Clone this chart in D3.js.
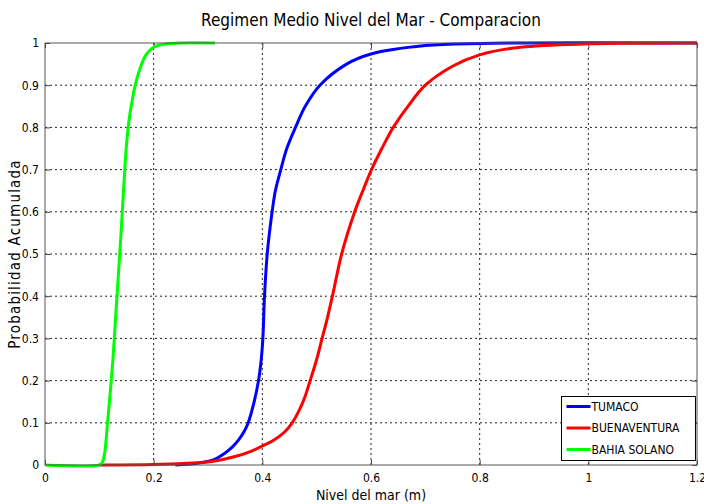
<!DOCTYPE html>
<html>
<head>
<meta charset="utf-8">
<script src="https://cdn.jsdelivr.net/npm/d3@7"></script>
<style>
    body { margin: 0; background: white; }
    text { font-family: "Liberation Sans Narrow", "DejaVu Sans Condensed", Arial, sans-serif; fill: #000; }
</style>
</head>
<body>
<div class="chart-ctn"></div>
<script>
// curvas: [nivel (m), probabilidad]
const tumaco = [[0.24, 0], [0.28, 0.004], [0.31, 0.012], [0.331, 0.028], [0.345, 0.043], [0.356, 0.059], [0.366, 0.078], [0.374, 0.1], [0.385, 0.15], [0.393, 0.2], [0.398, 0.25], [0.401, 0.3], [0.404, 0.4], [0.409, 0.5], [0.418, 0.6], [0.424, 0.65], [0.434, 0.7], [0.445, 0.75], [0.461, 0.8], [0.479, 0.85], [0.506, 0.9], [0.555, 0.95], [0.6, 0.974], [0.7, 0.994], [0.8, 0.999], [1.2, 1]];
const buenaventura = [[0.1, 0], [0.2, 0.001], [0.26, 0.004], [0.31, 0.009], [0.35, 0.02], [0.38, 0.033], [0.4, 0.045], [0.42, 0.058], [0.44, 0.077], [0.455, 0.1], [0.468, 0.13], [0.478, 0.16], [0.488, 0.2], [0.5, 0.25], [0.51, 0.3], [0.52, 0.35], [0.529, 0.4], [0.546, 0.5], [0.57, 0.6], [0.585, 0.65], [0.601, 0.7], [0.62, 0.75], [0.641, 0.8], [0.668, 0.85], [0.7, 0.9], [0.75, 0.945], [0.8, 0.972], [0.875, 0.99], [1.0, 0.998], [1.2, 1]];
const bahiaSolano = [[0, 0], [0.1, 0], [0.105, 0.005], [0.11, 0.03], [0.115, 0.1], [0.12, 0.17], [0.125, 0.25], [0.13, 0.35], [0.135, 0.45], [0.14, 0.55], [0.145, 0.66], [0.15, 0.76], [0.155, 0.82], [0.16, 0.86], [0.166, 0.9], [0.175, 0.94], [0.185, 0.97], [0.2, 0.99], [0.22, 0.997], [0.25, 1], [0.313, 1]];

const seriesNames = ['TUMACO', 'BUENAVENTURA', 'BAHIA SOLANO'];
const seriesColors = ['#0000ff', '#ff0000', '#00ff00'];
const xTicks = [0, 0.2, 0.4, 0.6, 0.8, 1, 1.2];
const yTicks = [0, 0.1, 0.2, 0.3, 0.4, 0.5, 0.6, 0.7, 0.8, 0.9, 1];

const w = 704, h = 504;
const margin = { left: 45, right: 7, top: 43, bottom: 39 };

let svg = d3.select('.chart-ctn')
    .append('svg')
    .attr('width', w)
    .attr('height', h)
    .style('background-color', 'white');

let x = d3.scaleLinear()
    .domain([0, 1.2])
    .range([margin.left, w - margin.right]);

let y = d3.scaleLinear()
    .domain([0, 1])
    .range([h - margin.bottom, margin.top]);

// rejilla punteada
svg.append('g')
    .selectAll('line')
    .data(xTicks.slice(1, -1))
    .join('line')
    .attr('x1', d => x(d)).attr('x2', d => x(d))
    .attr('y1', y(0)).attr('y2', y(1))
    .attr('stroke', '#222')
    .attr('stroke-dasharray', '2,3');

svg.append('g')
    .selectAll('line')
    .data(yTicks.slice(1, -1))
    .join('line')
    .attr('x1', x(0)).attr('x2', x(1.2))
    .attr('y1', d => y(d)).attr('y2', d => y(d))
    .attr('stroke', '#222')
    .attr('stroke-dasharray', '2,3');

// ejes estilo matlab (ticks hacia adentro)
const xAxis = d3.axisBottom(x).tickValues(xTicks).tickSizeInner(-5).tickSizeOuter(0).tickPadding(8).tickFormat(d3.format('~g'));
const yAxis = d3.axisLeft(y).tickValues(yTicks).tickSizeInner(-5).tickSizeOuter(0).tickPadding(6).tickFormat(d3.format('~g'));

svg.append('g')
    .attr('transform', 'translate(0,' + y(0) + ')')
    .call(xAxis)
    .call(g => g.select('.domain').remove())
    .call(g => g.selectAll('text').attr('font-size', 12).style('font-family', null));

svg.append('g')
    .attr('transform', 'translate(' + x(0) + ',0)')
    .call(yAxis)
    .call(g => g.select('.domain').remove())
    .call(g => g.selectAll('text').attr('font-size', 12).style('font-family', null));

svg.append('g')
    .attr('transform', 'translate(0,' + y(1) + ')')
    .call(d3.axisTop(x).tickValues(xTicks).tickSizeInner(-5).tickSizeOuter(0).tickFormat(''))
    .call(g => g.select('.domain').remove());

svg.append('g')
    .attr('transform', 'translate(' + x(1.2) + ',0)')
    .call(d3.axisRight(y).tickValues(yTicks).tickSizeInner(-5).tickSizeOuter(0).tickFormat(''))
    .call(g => g.select('.domain').remove());

svg.selectAll('.tick line').attr('stroke', '#444');

// curvas
const line = d3.line()
    .x(d => x(d[0]))
    .y(d => y(d[1]))
    .curve(d3.curveCatmullRom.alpha(0.5));

[tumaco, buenaventura, bahiaSolano].forEach((serie, i) => {
    svg.append('path')
        .datum(serie)
        .attr('fill', 'none')
        .attr('stroke', seriesColors[i])
        .attr('stroke-width', 3)
        .attr('d', line);
});

// marco
svg.append('rect')
    .attr('x', x(0)).attr('y', y(1))
    .attr('width', x(1.2) - x(0))
    .attr('height', y(0) - y(1))
    .attr('fill', 'none')
    .attr('stroke', '#555');

// leyenda
const legend = svg.append('g').attr('transform', 'translate(561.5,396.5)');
legend.append('rect')
    .attr('width', 134).attr('height', 64)
    .attr('fill', 'white')
    .attr('stroke', '#000');
seriesNames.forEach((name, i) => {
    legend.append('line')
        .attr('x1', 5).attr('x2', 29)
        .attr('y1', 10 + i * 21.5).attr('y2', 10 + i * 21.5)
        .attr('stroke', seriesColors[i])
        .attr('stroke-width', 3);
    legend.append('text')
        .attr('x', 30)
        .attr('y', 10 + i * 21.5)
        .attr('dy', '0.35em')
        .attr('font-size', 12)
        .text(name);
});

// titulos
svg.append('text')
    .attr('x', (x(0) + x(1.2)) / 2)
    .attr('y', 26)
    .attr('text-anchor', 'middle')
    .attr('font-size', 17)
    .text('Regimen Medio Nivel del Mar - Comparacion');

svg.append('text')
    .attr('x', (x(0) + x(1.2)) / 2)
    .attr('y', 500)
    .attr('text-anchor', 'middle')
    .attr('font-size', 14)
    .text('Nivel del mar (m)');

svg.append('text')
    .attr('transform', 'rotate(-90)')
    .attr('x', -(y(0) + y(1)) / 2)
    .attr('y', 20)
    .attr('text-anchor', 'middle')
    .attr('font-size', 15)
    .attr('letter-spacing', 1.2)
    .text('Probabilidad Acumulada');
</script>
</body>
</html>
